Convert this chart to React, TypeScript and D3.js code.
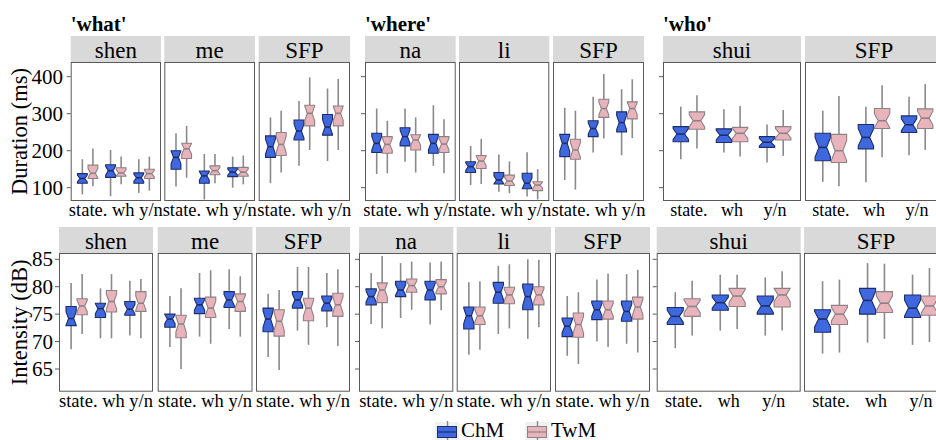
import React, { useEffect, useState } from "react";
import * as d3 from "d3";

// ---------------- data ----------------
const categories = ["state.", "wh", "y/n"];
const speakers = ["ChM", "TwM"];
const groupTitles = ["'what'", "'where'", "'who'"];
const panelNames = ["shen", "me", "SFP", "na", "li", "SFP", "shui", "SFP"];
const panelGroup = [0, 0, 0, 1, 1, 1, 2, 2];
const durationTicks = [100, 200, 300, 400];
const intensityTicks = [65, 70, 75, 80, 85];

// per panel: boxes in order state.ChM, state.TwM, wh ChM, wh TwM, y/n ChM, y/n TwM
// each box: [lower whisker, Q1, median, Q3, upper whisker]
const durationStats: number[][][] = [
  [[82,112,125,138,177],[104,125,139,161,206],[77,128,146,162,202],[109,131,140,154,184],[86,112,127,140,177],[92,125,138,150,184]],
  [[103,150,182,200,247],[127,179,205,220,267],[68,112,132,145,191],[112,135,146,159,191],[100,130,142,154,184],[109,131,142,155,187]],
  [[112,182,211,240,290],[141,187,217,249,308],[159,229,253,283,334],[202,267,301,323,398],[172,242,264,298,368],[202,267,301,321,394]],
  [[137,195,220,247,314],[139,193,217,238,281],[170,213,238,262,314],[141,202,229,243,290],[159,193,220,244,323],[139,195,218,238,285]],
  [[107,141,157,170,213],[110,152,172,187,232],[89,110,121,141,190],[85,106,118,134,171],[76,97,112,139,196],[68,92,107,116,150]],
  [[121,184,220,244,316],[95,177,202,231,308],[195,238,260,281,346],[233,290,314,339,407],[188,251,276,305,366],[234,286,314,332,393]],
  [[177,224,245,265,319],[206,258,281,305,350],[195,222,242,259,312],[184,224,247,263,321],[168,209,223,238,271],[186,229,247,265,310]],
  [[116,173,209,247,308],[104,168,200,244,348],[115,205,236,271,319],[182,260,281,314,377],[188,249,270,294,346],[202,260,288,313,380]],
];

const intensityStats: number[][][] = [
  [[68.6,72.9,74.2,76.4,80.7],[71.4,74.9,76.5,77.8,82.3],[70.6,74.4,76.0,77.0,79.7],[70.6,75.4,77.3,79.3,82.3],[71.1,74.8,75.9,77.3,81.1],[70.6,75.5,77.0,79.1,81.4]],
  [[69.0,72.6,74.1,75.0,78.3],[65.0,70.7,73.2,74.8,79.7],[70.9,75.1,76.7,77.9,82.5],[69.6,74.4,76.1,78.1,83.0],[72.3,76.2,77.6,79.1,83.2],[70.9,75.5,77.3,78.7,81.9]],
  [[67.2,71.8,74.1,76.1,78.7],[64.8,71.0,73.7,75.8,79.4],[72.0,76.1,77.6,79.1,83.6],[69.4,73.8,76.1,77.9,83.6],[72.6,75.6,77.0,78.3,82.5],[69.2,74.6,76.7,78.8,83.2]],
  [[73.2,76.7,78.2,79.6,82.5],[72.4,77.1,79.4,80.7,85.6],[74.3,78.2,79.4,81.0,84.3],[75.8,79.0,80.2,81.4,84.6],[73.1,77.6,79.4,81.0,84.4],[75.7,78.7,80.0,81.3,84.6]],
  [[67.6,72.3,74.7,76.3,80.8],[68.5,73.1,74.7,76.3,81.0],[71.4,77.0,79.0,80.8,83.8],[72.4,76.9,78.5,79.9,84.1],[70.5,75.8,78.2,80.5,85.0],[72.6,76.7,78.5,80.0,84.9]],
  [[67.4,70.9,72.8,74.3,78.3],[65.9,70.8,73.1,75.2,79.0],[70.0,74.0,75.8,77.4,81.3],[69.0,74.1,75.8,77.4,82.4],[69.6,73.7,75.5,77.4,82.3],[68.0,74.1,76.3,78.1,83.1]],
  [[68.8,73.1,74.6,76.2,79.0],[71.1,74.6,76.4,77.8,81.1],[72.0,75.7,77.1,78.5,82.2],[72.3,76.4,78.3,79.7,82.2],[71.1,75.0,76.5,78.3,81.7],[72.0,76.3,78.5,79.7,82.8]],
  [[67.8,71.7,74.1,75.8,81.0],[68.0,73.1,75.0,76.6,81.3],[69.8,75.0,77.5,79.7,84.3],[70.5,75.3,77.0,79.1,84.2],[69.4,74.4,76.1,78.5,82.2],[69.9,74.8,76.5,78.3,83.4]],
];

// sample size used for notch extent (median ± 1.58·IQR/√n)
const SAMPLE_N = 20;

// ---------------- styles / layout ----------------
const FAMILY = "Liberation Serif";
const FILL: Record<string, string> = { ChM: "#3f68df", TwM: "#e9b3bb" };
const EDGE: Record<string, string> = { ChM: "#1d2c6a", TwM: "#8c8285" };
const WHISKER = "#8a8a8a";
const BORDER = "#5a5a5a";
const STRIP = "#d9d9d9";

// page-level font rule so every svg text inherits the serif face
if (typeof document !== "undefined" && !document.getElementById("chart-font-rule")) {
  const st = document.createElement("style");
  st.id = "chart-font-rule";
  st.textContent = `html, body, #root, svg, svg text { font-family: "${FAMILY}" !important; }`;
  document.head.appendChild(st);
}

interface RowLayout {
  stats: number[][][];
  ticks: number[];
  title: string;
  stripTop: number;
  panelTop: number;
  panelBottom: number;
  labelY: number;
  yDomain: [number, number];
  yRange: [number, number];
  tickLabelX: number;
  xs: [number, number][];
}

const rows: RowLayout[] = [
  {
    stats: durationStats,
    ticks: durationTicks,
    title: "Duration (ms)",
    stripTop: 36,
    panelTop: 62,
    panelBottom: 201,
    labelY: 216,
    yDomain: [100, 400],
    yRange: [187.7, 76.7],
    tickLabelX: 63,
    xs: [[70.7, 161], [164.3, 255], [258.7, 350], [365, 455.7], [459, 549.3], [553, 644], [663, 801], [805, 943]],
  },
  {
    stats: intensityStats,
    ticks: intensityTicks,
    title: "Intensity (dB)",
    stripTop: 227,
    panelTop: 253,
    panelBottom: 391.7,
    labelY: 407,
    yDomain: [65, 85],
    yRange: [369, 259.3],
    tickLabelX: 53,
    xs: [[59, 153], [157.7, 252.5], [256, 350], [359, 453.3], [456.7, 551], [555, 650], [656.7, 800.7], [804, 948]],
  },
];

const line = d3.line<[number, number]>();

function T(props: any) {
  const { children, ...rest } = props;
  return (
    <text {...rest} fontFamily={FAMILY} style={{ fontFamily: `"${FAMILY}"` }}>
      {children}
    </text>
  );
}

function NotchBox({ x0, x1, s, y, spk }: { x0: number; x1: number; s: number[]; y: d3.ScaleLinear<number, number>; spk: string }) {
  const [lo, q1, med, q3, hi] = s;
  const half = (1.58 * (q3 - q1)) / Math.sqrt(SAMPLE_N);
  const nl = Math.max(q1, med - half);
  const nu = Math.min(q3, med + half);
  const ind = (x1 - x0) * 0.25;
  const cx = (x0 + x1) / 2;
  const pts: [number, number][] = [
    [x0, y(q3)], [x0, y(nu)], [x0 + ind, y(med)], [x0, y(nl)], [x0, y(q1)],
    [x1, y(q1)], [x1, y(nl)], [x1 - ind, y(med)], [x1, y(nu)], [x1, y(q3)],
  ];
  return (
    <g>
      <line x1={cx} x2={cx} y1={y(hi)} y2={y(lo)} stroke={WHISKER} strokeWidth={1.6} />
      <path d={line(pts) + "Z"} fill={FILL[spk]} stroke={EDGE[spk]} strokeWidth={1.1} />
      <line x1={x0 + ind} x2={x1 - ind} y1={y(med)} y2={y(med)} stroke={EDGE[spk]} strokeWidth={1.6} />
    </g>
  );
}

function Row({ r, showGroupTitles }: { r: RowLayout; showGroupTitles: boolean }) {
  const y = d3.scaleLinear().domain(r.yDomain).range(r.yRange);
  const firstOfGroup = panelGroup.map((g, i) => i === 0 || panelGroup[i - 1] !== g);
  return (
    <g>
      <T
        transform={`translate(${27},${(r.panelTop + r.panelBottom) / 2}) rotate(-90)`}
        textAnchor="middle"
        fontSize={22.5}
      >
        {r.title}
      </T>
      {panelNames.map((name, p) => {
        const [px0, px1] = r.xs[p];
        const xc = d3.scalePoint<string>().domain(categories).range([px0, px1]).padding(0.6);
        const step = xc.step();
        const bw = step * 0.375;
        const narrow = px1 - px0 < 110;
        return (
          <g key={p}>
            {showGroupTitles && firstOfGroup[p] && (
              <T x={px0} y={31} fontSize={21} fontWeight="bold">
                {groupTitles[panelGroup[p]]}
              </T>
            )}
            <rect x={px0} y={r.stripTop} width={px1 - px0} height={r.panelTop - r.stripTop} fill={STRIP} />
            <T x={(px0 + px1) / 2} y={r.panelTop - 4} textAnchor="middle" fontSize={23}>
              {name}
            </T>
            <rect x={px0 + 0.5} y={r.panelTop + 0.5} width={px1 - px0 - 1} height={r.panelBottom - r.panelTop - 1} fill="#fff" stroke={BORDER} strokeWidth={1} />
            {firstOfGroup[p] &&
              r.ticks.map((t) => (
                <line key={t} x1={px0 - 4} x2={px0} y1={y(t)} y2={y(t)} stroke={BORDER} strokeWidth={1} />
              ))}
            {p === 0 &&
              r.ticks.map((t) => (
                <T key={t} x={r.tickLabelX} y={y(t) + 7} textAnchor="end" fontSize={21}>
                  {t}
                </T>
              ))}
            {categories.map((c, ci) =>
              speakers.map((spk, si) => {
                const cx = xc(c) as number;
                const x0 = si === 0 ? cx - bw : cx;
                const x1 = si === 0 ? cx : cx + bw;
                return <NotchBox key={c + spk} x0={x0 + 0.4} x1={x1 - 0.4} s={r.stats[p][ci * 2 + si]} y={y} spk={spk} />;
              })
            )}
            {narrow ? (
              <T x={(px0 + px1) / 2} y={r.labelY} textAnchor="middle" fontSize={18.5}>
                {categories.join(" ")}
              </T>
            ) : (
              categories.map((c) => (
                <T key={c} x={xc(c) as number} y={r.labelY} textAnchor="middle" fontSize={18}>
                  {c}
                </T>
              ))
            )}
          </g>
        );
      })}
    </g>
  );
}

function Legend() {
  const keys = [
    { spk: speakers[0], x: 435 },
    { spk: speakers[1], x: 525 },
  ];
  return (
    <g>
      {keys.map(({ spk, x }) => (
        <g key={spk}>
          <rect x={x} y={422} width={24} height={24} fill="#f0f0f0" />
          <line x1={x + 12.5} x2={x + 12.5} y1={421} y2={446} stroke={WHISKER} strokeWidth={1.4} />
          <rect x={x + 2.5} y={426.5} width={19} height={11} fill={FILL[spk]} stroke={EDGE[spk]} strokeWidth={1} />
          <line x1={x + 2.5} x2={x + 21.5} y1={432} y2={432} stroke={EDGE[spk]} strokeWidth={1.2} />
          <T x={x + 26} y={437} fontSize={21}>
            {spk}
          </T>
        </g>
      ))}
    </g>
  );
}

export default function App() {
  const [gen, setGen] = useState(0);
  useEffect(() => {
    let alive = true;
    const fonts = (document as any).fonts;
    if (fonts && fonts.load) {
      Promise.all([fonts.load(`21px "${FAMILY}"`), fonts.load(`bold 21px "${FAMILY}"`)])
        .then(() => alive && setGen((g) => g + 1))
        .catch(() => {});
    }
    return () => {
      alive = false;
    };
  }, []);
  return (
    <svg
      key={gen}
      width={936}
      height={440}
      fontFamily={FAMILY}
      style={{ position: "absolute", left: 0, top: 0, background: "#fff", fontFamily: `"${FAMILY}"` }}
    >
      <rect width={936} height={440} fill="#fff" />
      <Row r={rows[0]} showGroupTitles={true} />
      <Row r={rows[1]} showGroupTitles={false} />
      <Legend />
    </svg>
  );
}
